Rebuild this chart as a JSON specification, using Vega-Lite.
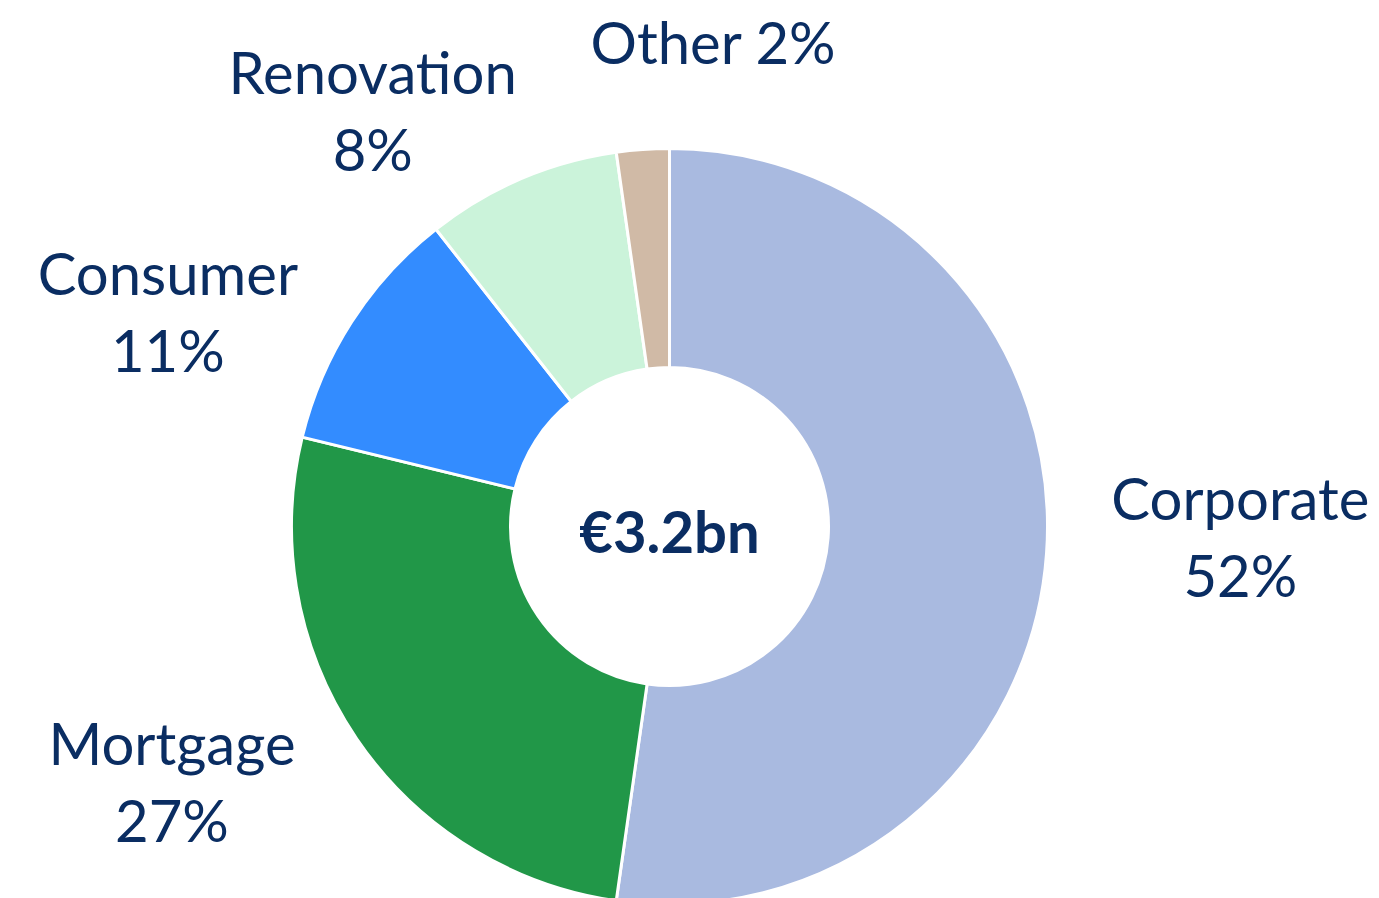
{
  "$schema": "https://vega.github.io/schema/vega-lite/v6.json",
  "width": 1339,
  "height": 757,
  "autosize": "none",
  "padding": {"left": 0, "top": 148, "right": 40, "bottom": 0},
  "background": "white",
  "config": {"view": {"stroke": null}, "text": {"font": "Lato"}},
  "data": {
    "values": [
      {"segment": "Corporate", "share": 52.25, "rank": 1, "label": "Corporate\n52%"},
      {"segment": "Mortgage", "share": 26.55, "rank": 2, "label": "Mortgage\n27%"},
      {"segment": "Consumer", "share": 10.6, "rank": 3, "label": "Consumer\n11%"},
      {"segment": "Renovation", "share": 8.35, "rank": 4, "label": "Renovation\n8%"},
      {"segment": "Other", "share": 2.25, "rank": 5, "label": "Other 2%"}
    ]
  },
  "layer": [
    {
      "encoding": {
        "theta": {"field": "share", "type": "quantitative", "stack": true},
        "order": {"field": "rank", "type": "quantitative"}
      },
      "layer": [
        {
          "mark": {"type": "arc", "innerRadius": 159, "outerRadius": 378, "stroke": "white", "strokeWidth": 3},
          "encoding": {
            "color": {
              "field": "segment",
              "type": "nominal",
              "scale": {
                "domain": ["Corporate", "Mortgage", "Consumer", "Renovation", "Other"],
                "range": ["#A9BAE0", "#219748", "#338CFF", "#CBF3DA", "#D0BAA6"]
              },
              "legend": null
            }
          }
        },
        {
          "mark": {"type": "text", "radius": 571, "thetaOffset": -0.0445, "dy": -38, "fontSize": 58, "color": "#0A2D62", "lineBreak": "\n", "lineHeight": 77, "align": "center", "baseline": "middle"},
          "encoding": {"text": {"condition": {"test": "datum.segment === 'Corporate'", "field": "label", "type": "nominal"}, "value": ""}}
        },
        {
          "mark": {"type": "text", "radius": 561, "thetaOffset": 0.115, "dy": -38, "fontSize": 58, "color": "#0A2D62", "lineBreak": "\n", "lineHeight": 77, "align": "center", "baseline": "middle"},
          "encoding": {"text": {"condition": {"test": "datum.segment === 'Mortgage'", "field": "label", "type": "nominal"}, "value": ""}}
        },
        {
          "mark": {"type": "text", "radius": 544, "thetaOffset": -0.1745, "dy": -38, "fontSize": 58, "color": "#0A2D62", "lineBreak": "\n", "lineHeight": 77, "align": "center", "baseline": "middle"},
          "encoding": {"text": {"condition": {"test": "datum.segment === 'Consumer'", "field": "label", "type": "nominal"}, "value": ""}}
        },
        {
          "mark": {"type": "text", "radius": 507, "thetaOffset": -0.2217, "dy": -38, "fontSize": 58, "color": "#0A2D62", "lineBreak": "\n", "lineHeight": 77, "align": "center", "baseline": "middle"},
          "encoding": {"text": {"condition": {"test": "datum.segment === 'Renovation'", "field": "label", "type": "nominal"}, "value": ""}}
        },
        {
          "mark": {"type": "text", "radius": 481, "thetaOffset": 0.1614, "fontSize": 58, "color": "#0A2D62", "lineBreak": "\n", "lineHeight": 77, "align": "center", "baseline": "middle"},
          "encoding": {"text": {"condition": {"test": "datum.segment === 'Other'", "field": "label", "type": "nominal"}, "value": ""}}
        }
      ]
    },
    {
      "data": {"values": [{"total": "€3.2bn"}]},
      "mark": {"type": "text", "fontSize": 58, "fontWeight": "bold", "color": "#0A2D62", "align": "center", "baseline": "middle", "dy": 9},
      "encoding": {"text": {"field": "total", "type": "nominal"}}
    }
  ]
}
